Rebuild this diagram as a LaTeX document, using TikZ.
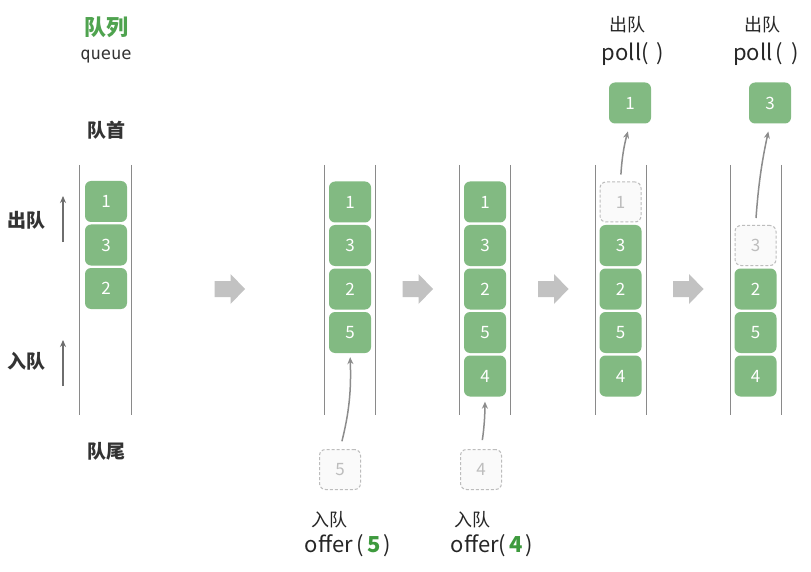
\documentclass[tikz,border=0pt]{standalone}
\usepackage{fontspec}
\setmainfont{Noto Sans CJK SC}
\newfontfamily\monof{DejaVu Sans Mono}
\usetikzlibrary{arrows.meta}
\definecolor{boxgreen}{HTML}{82BA82}
\definecolor{titlegreen}{HTML}{4FA34F}
\definecolor{numgreen}{HTML}{3E9A3E}
\definecolor{ghostgrey}{HTML}{BDBDBD}
\definecolor{ghostfill}{HTML}{FAFAFA}
\definecolor{wallgrey}{HTML}{8A8A8A}
\definecolor{arrowgrey}{HTML}{8C8C8C}
\definecolor{sidegrey}{HTML}{6E6E6E}
\definecolor{bigarrowgrey}{HTML}{C2C2C2}
\definecolor{labeldark}{HTML}{333333}
\tikzset{
  item/.style={rounded corners=6pt, fill=boxgreen, minimum width=42pt, minimum height=41pt,
    inner sep=0pt, text=white, font=\fontsize{17}{20}\selectfont},
  ghost/.style={rounded corners=6pt, draw=ghostgrey, dash pattern=on 3pt off 2pt, line width=1pt,
    fill=ghostfill, minimum width=41pt, minimum height=40pt, inner sep=0pt, text=ghostgrey,
    font=\fontsize{17}{20}\selectfont},
  wall/.style={draw=wallgrey, line width=1.2pt},
  flow/.style={draw=arrowgrey, line width=1.5pt, -{Stealth[length=7pt,width=6pt]}},
  sideflow/.style={draw=sidegrey, line width=1.5pt, -{Stealth[length=7pt,width=6pt]}},
  bigarrow/.style={fill=bigarrowgrey},
  boldlabel/.style={text=labeldark, font=\fontsize{19}{23}\selectfont\bfseries},
  oplabel/.style={text=black!85, font=\fontsize{18}{22}\selectfont},
  opcall/.style={text=black!85, font=\fontsize{22}{26}\selectfont},
}
\begin{document}
\begin{tikzpicture}[x=1pt,y=-1pt]
\useasboundingbox[fill=white] (0,0) rectangle (811,572);

% titles
\node[text=titlegreen, font=\fontsize{22}{26}\selectfont\bfseries] (title) at (106,27) {队列};
\node[text=labeldark, font=\fontsize{17}{20}\selectfont\monof] (titleen) at (106,57) {queue};
\node[boldlabel] (head) at (106,130) {队首};
\node[boldlabel] (tail) at (106,451) {队尾};
\node[boldlabel] (deqlbl) at (27,220) {出队};
\node[boldlabel] (enqlbl) at (27,361) {入队};
\coordinate (deqA) at (63,242);
\coordinate (deqB) at (63,196);
\coordinate (enqA) at (63,386);
\coordinate (enqB) at (63,340);
\draw[sideflow] (deqA) -- (deqB);
\draw[sideflow] (enqA) -- (enqB);

% walls
\foreach \xl/\xr in {79.5/131.5, 324.5/375.5, 459.5/510.5, 595.5/646.5, 730.5/781.5}{
  \draw[wall] (\xl,165) -- (\xl,415);
  \draw[wall] (\xr,165) -- (\xr,415);
}

% big arrows
\foreach \x in {214.5, 402.5, 538, 673}{
  \fill[bigarrow] (\x,281) -- (\x+16,281) -- (\x+16,274) -- (\x+30.5,289) -- (\x+16,304) -- (\x+16,297) -- (\x,297) -- cycle;
}

% column 1
\node[item] (a1) at (106,201.5) {1};
\node[item] (a2) at (106,245) {3};
\node[item] (a3) at (106,288.5) {2};

% column 2
\node[item] (b1) at (350,202) {1};
\node[item] (b2) at (350,245.5) {3};
\node[item] (b3) at (350,289) {2};
\node[item] (b4) at (350,332.5) {5};
\node[ghost] (bg) at (340,469.5) {5};
\draw[flow, shorten <=8pt, shorten >=4pt] (bg.north) to[bend right=8] (b4.south);
\node[oplabel] (benq) at (329,520) {入队};
\node[opcall] (bcall) at (348,546) {offer\hspace{4pt}(\hspace{3pt}\textcolor{numgreen}{\bfseries 5}\hspace{3pt})};

% column 3
\node[item] (c1) at (485,202) {1};
\node[item] (c2) at (485,245.5) {3};
\node[item] (c3) at (485,289) {2};
\node[item] (c4) at (485,332.5) {5};
\node[item] (c5) at (485,376) {4};
\node[ghost] (cg) at (481,469.5) {4};
\draw[flow, shorten <=9pt, shorten >=5pt] (cg.north) to[bend right=4] (c5.south);
\node[oplabel] (cenq) at (472,520) {入队};
\node[opcall] (ccall) at (492,546) {offer(\hspace{3pt}\textcolor{numgreen}{\bfseries 4}\hspace{3pt})};

% column 4
\node[ghost] (dg) at (620.5,202) {1};
\node[item] (d2) at (620.5,245.5) {3};
\node[item] (d3) at (620.5,289) {2};
\node[item] (d4) at (620.5,332.5) {5};
\node[item] (d5) at (620.5,376) {4};
\node[item] (dout) at (630,103) {1};
\draw[flow, shorten <=7pt, shorten >=8pt] (dg.north) to[bend left=6] (dout.south);
\node[oplabel] (ddeq) at (627,25) {出队};
\node[opcall] (dcall) at (633,54) {poll(\hspace{8pt})};

% column 5
\node[ghost] (eg) at (755.5,245.5) {3};
\node[item] (e3) at (755.5,289) {2};
\node[item] (e4) at (755.5,332.5) {5};
\node[item] (e5) at (755.5,376) {4};
\node[item] (eout) at (770,103) {3};
\draw[flow, shorten <=7pt, shorten >=8pt] (eg.north) to[bend left=4] (eout.south);
\node[oplabel] (edeq) at (762,25) {出队};
\node[opcall] (ecall) at (766,54) {poll\hspace{3pt}(\hspace{8pt})};
\end{tikzpicture}
\end{document}
